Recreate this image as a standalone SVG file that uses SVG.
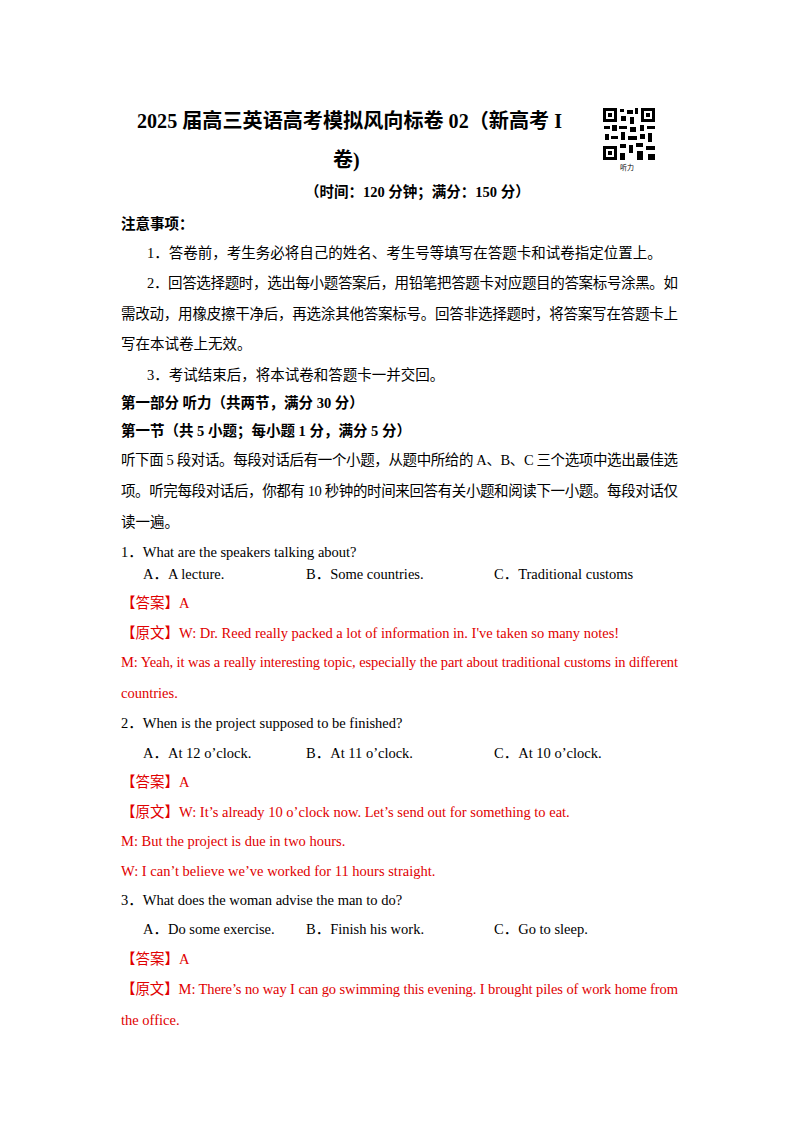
<svg xmlns="http://www.w3.org/2000/svg" width="800" height="1132" viewBox="0 0 800 1132">
<style>
text{font-family:"Liberation Serif","Noto Sans CJK SC",serif;font-size:14.5px;fill:#000}
.b{font-weight:bold}
.r{fill:#e00000}
.t{font-size:20px;font-weight:bold}
</style>
<rect width="800" height="1132" fill="#fff"/>
<g id="title">
<text class="t" x="137" y="128" textLength="425" lengthAdjust="spacingAndGlyphs">2025 届高三英语高考模拟风向标卷 02（新高考 I</text>
<text class="t" x="333" y="167">卷)</text>
<text class="b" x="305" y="197">（时间：120 分钟；满分：150 分）</text>
</g>
<g id="qr" fill="#000">
<rect x="603" y="108" width="52" height="52" fill="#fff"/>
<rect x="603" y="108" width="14" height="14"/><rect x="606" y="111" width="8" height="8" fill="#fff"/><rect x="608" y="113" width="4" height="4"/>
<rect x="641" y="108" width="14" height="14"/><rect x="644" y="111" width="8" height="8" fill="#fff"/><rect x="646" y="113" width="4" height="4"/>
<rect x="603" y="146" width="14" height="14"/><rect x="606" y="149" width="8" height="8" fill="#fff"/><rect x="608" y="151" width="4" height="4"/>
<rect x="620" y="109" width="4" height="3"/><rect x="627" y="110" width="6" height="4"/><rect x="635" y="108" width="3" height="6"/>
<rect x="621" y="116" width="5" height="5"/><rect x="630" y="117" width="4" height="7"/><rect x="604" y="126" width="6" height="3"/>
<rect x="612" y="125" width="5" height="6"/><rect x="619" y="126" width="8" height="3"/><rect x="630" y="127" width="6" height="5"/>
<rect x="640" y="125" width="4" height="6"/><rect x="647" y="126" width="8" height="3"/><rect x="605" y="134" width="4" height="6"/>
<rect x="611" y="136" width="7" height="3"/><rect x="621" y="132" width="4" height="8"/><rect x="628" y="136" width="9" height="4"/>
<rect x="640" y="134" width="5" height="5"/><rect x="648" y="133" width="4" height="9"/><rect x="620" y="144" width="6" height="4"/>
<rect x="629" y="145" width="4" height="8"/><rect x="636" y="143" width="7" height="4"/><rect x="646" y="146" width="9" height="4"/>
<rect x="620" y="153" width="5" height="7"/><rect x="637" y="151" width="6" height="9"/><rect x="648" y="154" width="7" height="6"/>
<text x="620" y="170" style="font-size:7px">听力</text>
</g>
<g id="notes">
<text class="b" x="121" y="229">注意事项：</text>
<text x="147" y="258">1．答卷前，考生务必将自己的姓名、考生号等填写在答题卡和试卷指定位置上。</text>
<text x="147" y="288" textLength="531" lengthAdjust="spacing">2．回答选择题时，选出每小题答案后，用铅笔把答题卡对应题目的答案标号涂黑。如</text>
<text x="121" y="319" textLength="557" lengthAdjust="spacing">需改动，用橡皮擦干净后，再选涂其他答案标号。回答非选择题时，将答案写在答题卡上</text>
<text x="121" y="349">写在本试卷上无效。</text>
<text x="147" y="380">3．考试结束后，将本试卷和答题卡一并交回。</text>
<text class="b" x="121" y="408">第一部分 听力（共两节，满分 30 分）</text>
<text class="b" x="121" y="436">第一节（共 5 小题；每小题 1 分，满分 5 分）</text>
<text x="121" y="465" textLength="557" lengthAdjust="spacing">听下面 5 段对话。每段对话后有一个小题，从题中所给的 A、B、C 三个选项中选出最佳选</text>
<text x="121" y="496" textLength="557" lengthAdjust="spacing">项。听完每段对话后，你都有 10 秒钟的时间来回答有关小题和阅读下一小题。每段对话仅</text>
<text x="121" y="527">读一遍。</text>
</g>
<g id="q1">
<text x="121" y="557">1．What are the speakers talking about?</text>
<text x="143" y="579">A．A lecture.</text><text x="306" y="579">B．Some countries.</text><text x="494" y="579">C．Traditional customs</text>
<text class="r" x="121" y="608">【答案】A</text>
<text class="r" x="121" y="638">【原文】W: Dr. Reed really packed a lot of information in. I've taken so many notes!</text>
<text class="r" x="121" y="667" textLength="557" lengthAdjust="spacing">M: Yeah, it was a really interesting topic, especially the part about traditional customs in different</text>
<text class="r" x="121" y="698">countries.</text>
</g>
<g id="q2">
<text x="121" y="728">2．When is the project supposed to be finished?</text>
<text x="143" y="758">A．At 12 o’clock.</text><text x="306" y="758">B．At 11 o’clock.</text><text x="494" y="758">C．At 10 o’clock.</text>
<text class="r" x="121" y="787">【答案】A</text>
<text class="r" x="121" y="817">【原文】W: It’s already 10 o’clock now. Let’s send out for something to eat.</text>
<text class="r" x="121" y="846">M: But the project is due in two hours.</text>
<text class="r" x="121" y="876">W: I can’t believe we’ve worked for 11 hours straight.</text>
</g>
<g id="q3">
<text x="121" y="905">3．What does the woman advise the man to do?</text>
<text x="143" y="934">A．Do some exercise.</text><text x="306" y="934">B．Finish his work.</text><text x="494" y="934">C．Go to sleep.</text>
<text class="r" x="121" y="964">【答案】A</text>
<text class="r" x="121" y="994" textLength="557" lengthAdjust="spacing">【原文】M: There’s no way I can go swimming this evening. I brought piles of work home from</text>
<text class="r" x="121" y="1025">the office.</text>
</g>
</svg>
